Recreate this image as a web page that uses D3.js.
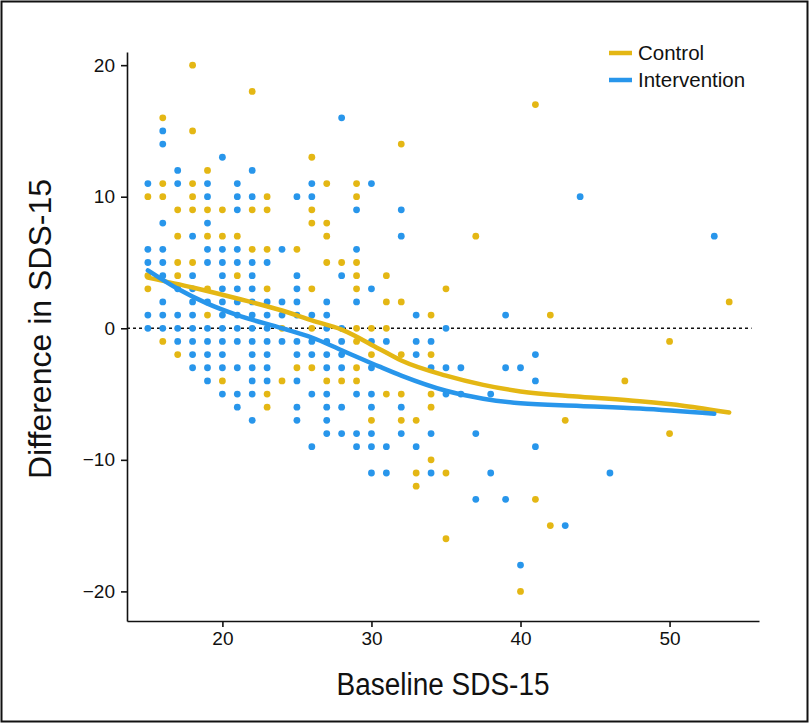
<!DOCTYPE html>
<html>
<head>
<meta charset="utf-8">
<script src="https://cdn.jsdelivr.net/npm/d3@7/dist/d3.min.js"></script>
<style>
  html, body { margin: 0; padding: 0; background: #fff; }
  svg { display: block; }
  .tick text { font-family: "Liberation Sans", Arial, sans-serif; font-size: 19px; fill: #111; }
  .title { font-family: "Liberation Sans", Arial, sans-serif; font-size: 31px; fill: #111; }
  .legend text { font-family: "Liberation Sans", Arial, sans-serif; font-size: 20.5px; fill: #111; }
</style>
</head>
<body>
<script>
// ---------- data ----------
const seriesNames = ["Control", "Intervention"];
const seriesColors = ["#E4B714", "#2896EB"];

// Control points [baseline, difference]
const controlPoints = [
  [15,10],[15,4],[15,3],
  [16,16],[16,11],[16,10],[16,-1],
  [17,9],[17,7],[17,5],[17,4],[17,-2],
  [18,20],[18,15],[18,11],[18,10],[18,9],[18,5],
  [19,12],[19,9],[19,7],[19,3],[19,1],
  [20,9],[20,7],[20,-4],
  [21,7],[21,4],
  [22,18],[22,9],[22,6],
  [23,10],[23,9],[23,6],[23,3],[23,-5],[23,-6],
  [24,0],[24,-4],
  [25,6],[25,-3],
  [26,13],[26,9],[26,8],[26,3],[26,0],[26,-3],
  [27,11],[27,8],[27,7],[27,5],[27,-4],
  [28,5],[28,-4],
  [29,11],[29,10],[29,5],[29,4],[29,3],[29,0],[29,-1],[29,-3],[29,-4],
  [30,0],[30,-2],[30,-7],
  [31,4],[31,2],[31,0],[31,-5],
  [32,14],[32,2],[32,-2],[32,-5],[32,-7],
  [33,-7],[33,-11],[33,-12],
  [34,1],[34,-2],[34,-5],[34,-6],[34,-10],
  [35,3],[35,-11],[35,-16],
  [37,7],
  [40,-20],
  [41,17],[41,-13],
  [42,1],[42,-15],
  [43,-7],
  [47,-4],
  [50,-1],[50,-8],
  [54,2]
];

// Intervention points [baseline, difference]
const interventionPoints = [
  [15,11],[15,6],[15,5],[15,1],[15,0],
  [16,15],[16,14],[16,8],[16,6],[16,5],[16,4],[16,2],[16,1],[16,0],
  [17,12],[17,11],[17,3],[17,1],[17,0],[17,-1],
  [18,7],[18,4],[18,3],[18,2],[18,1],[18,0],[18,-1],[18,-2],[18,-3],
  [19,11],[19,10],[19,8],[19,6],[19,5],[19,2],[19,0],[19,-1],[19,-2],[19,-3],[19,-4],
  [20,13],[20,6],[20,5],[20,4],[20,3],[20,2],[20,1],[20,0],[20,-1],[20,-2],[20,-3],[20,-5],
  [21,11],[21,10],[21,9],[21,6],[21,5],[21,3],[21,2],[21,1],[21,0],[21,-1],[21,-3],[21,-5],[21,-6],
  [22,12],[22,10],[22,5],[22,4],[22,3],[22,2],[22,1],[22,0],[22,-1],[22,-2],[22,-3],[22,-4],[22,-5],[22,-7],
  [23,5],[23,2],[23,1],[23,0],[23,-1],[23,-2],[23,-3],[23,-4],
  [24,6],[24,2],[24,1],[24,-1],
  [25,10],[25,4],[25,3],[25,2],[25,1],[25,-1],[25,-2],[25,-4],[25,-6],[25,-7],
  [26,11],[26,10],[26,1],[26,-1],[26,-2],[26,-5],[26,-9],
  [27,2],[27,1],[27,0],[27,-1],[27,-2],[27,-3],[27,-5],[27,-6],[27,-7],[27,-8],
  [28,16],[28,4],[28,0],[28,-1],[28,-2],[28,-3],[28,-6],[28,-8],
  [29,9],[29,6],[29,2],[29,-5],[29,-8],[29,-9],
  [30,11],[30,3],[30,-1],[30,-3],[30,-5],[30,-6],[30,-8],[30,-9],[30,-11],
  [31,-1],[31,-9],[31,-11],
  [32,9],[32,7],[32,-6],[32,-8],
  [33,1],[33,-1],[33,-2],[33,-9],
  [34,-1],[34,-3],[34,-8],[34,-11],
  [35,0],[35,-3],[35,-5],
  [36,-3],[36,-5],
  [37,-8],[37,-13],
  [38,-5],[38,-11],
  [39,1],[39,-3],[39,-13],
  [40,-3],[40,-18],
  [41,-2],[41,-4],[41,-9],
  [43,-15],
  [44,10],
  [46,-11],
  [53,7]
];

// Smoothed (loess) curves
const controlFit = [
  [15,3.85],[18,3.1],[21,2.26],[24,1.35],[26,0.6],[28,-0.1],[30.5,-1.55],
  [32,-2.45],[35,-3.6],[37.5,-4.3],[40,-4.8],[44,-5.2],[48,-5.55],[51,-5.9],[54,-6.4]
];
const interventionFit = [
  [15,4.4],[17,3.0],[19,1.87],[21,1.0],[24,0],[26,-0.7],[28,-1.67],[30.5,-2.9],
  [32,-3.6],[35,-4.75],[37.5,-5.35],[40,-5.7],[44,-5.9],[48,-6.1],[53,-6.5]
];

const xTicks = [20, 30, 40, 50];
const yTicks = [-20, -10, 0, 10, 20];
const xLabel = "Baseline SDS-15";
const yLabel = "Difference in SDS-15";

// ---------- drawing ----------
const W = 809, H = 724;
const svg = d3.select("body").append("svg").attr("width", W).attr("height", H);

// frame
svg.append("rect").attr("x", 1.5).attr("y", 1.5).attr("width", W - 3).attr("height", 720)
  .attr("fill", "none").attr("stroke", "#111").attr("stroke-width", 2);

const x = d3.scaleLinear().domain([13.6, 56]).range([127, 759]);
const y = d3.scaleLinear().domain([-22.25, 21]).range([621, 52]);

// axes
const xAxis = svg.append("g").attr("transform", `translate(0,${y.range()[0]})`)
  .call(d3.axisBottom(x).tickValues(xTicks).tickSize(6).tickSizeOuter(0).tickPadding(5));
const yAxis = svg.append("g").attr("transform", `translate(${x.range()[0]},0)`)
  .call(d3.axisLeft(y).tickValues(yTicks).tickSize(6).tickSizeOuter(0).tickPadding(6));
[xAxis, yAxis].forEach(g => {
  g.select(".domain").attr("stroke", "#111").attr("stroke-width", 1.6);
  g.selectAll(".tick line").attr("stroke", "#111").attr("stroke-width", 1.6);
});

// zero reference line
svg.append("line")
  .attr("x1", x.range()[0]).attr("x2", x(55.5))
  .attr("y1", y(0)).attr("y2", y(0))
  .attr("stroke", "#111").attr("stroke-width", 1.6).attr("stroke-dasharray", "3,3");

// points
const pts = svg.append("g");
pts.selectAll("circle.c").data(controlPoints).join("circle")
  .attr("class", "c").attr("cx", d => x(d[0])).attr("cy", d => y(d[1])).attr("r", 3.4)
  .attr("fill", seriesColors[0]);
pts.selectAll("circle.i").data(interventionPoints).join("circle")
  .attr("class", "i").attr("cx", d => x(d[0])).attr("cy", d => y(d[1])).attr("r", 3.4)
  .attr("fill", seriesColors[1]);

// fitted curves
const line = d3.line().x(d => x(d[0])).y(d => y(d[1])).curve(d3.curveMonotoneX);
svg.append("path").datum(controlFit).attr("d", line)
  .attr("fill", "none").attr("stroke", seriesColors[0]).attr("stroke-width", 4.5).attr("stroke-linecap", "round");
svg.append("path").datum(interventionFit).attr("d", line)
  .attr("fill", "none").attr("stroke", seriesColors[1]).attr("stroke-width", 4.5).attr("stroke-linecap", "round");

// axis titles (condensed look via textLength)
svg.append("text").attr("class", "title")
  .attr("x", 443).attr("y", 695).attr("text-anchor", "middle")
  .attr("textLength", 213).attr("lengthAdjust", "spacingAndGlyphs").text(xLabel);
svg.append("text").attr("class", "title")
  .attr("transform", "translate(51,329) rotate(-90)").attr("text-anchor", "middle")
  .attr("textLength", 300).attr("lengthAdjust", "spacingAndGlyphs").text(yLabel);

// legend
const legend = svg.append("g").attr("class", "legend");
seriesNames.forEach((name, i) => {
  const ly = 53 + i * 27;
  legend.append("line").attr("x1", 609).attr("x2", 632).attr("y1", ly).attr("y2", ly)
    .attr("stroke", seriesColors[i]).attr("stroke-width", 4.5);
  legend.append("text").attr("x", 638).attr("y", ly + 7).text(name);
});
</script>
</body>
</html>
